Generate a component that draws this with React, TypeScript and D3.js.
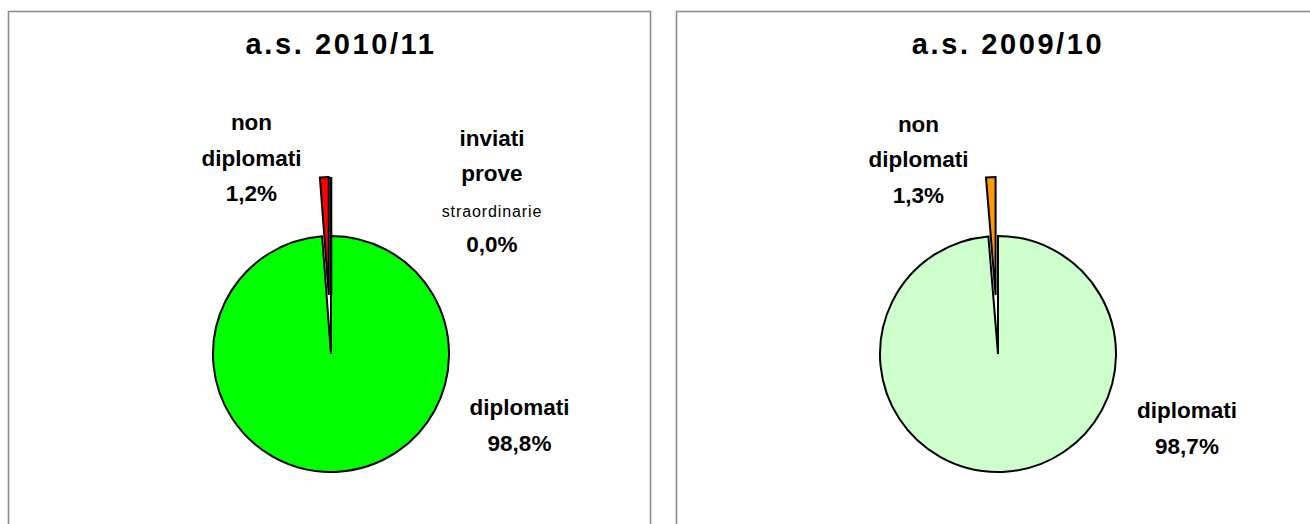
import React from 'react';
import * as d3 from 'd3';

// Esiti esami di stato, percentuali
const categories2010 = ['diplomati', 'non diplomati', 'inviati prove straordinarie'];
const values2010 = [98.8, 1.2, 0.0];
const colors2010 = ['#00FF00', '#FF0000', '#FFFF00'];

const categories2009 = ['diplomati', 'non diplomati'];
const values2009 = [98.7, 1.3];
const colors2009 = ['#CCFFCC', '#FF9900'];

const titles = ['a.s. 2010/11', 'a.s. 2009/10'];

const W = 1310;
const H = 524;
const FONT = "'Liberation Sans', Arial, sans-serif";

const fmt = (v: number) => v.toFixed(1).replace('.', ',') + '%';

interface LabelPos {
  x: number;
  y: number; // baseline of first line
}

interface PieProps {
  title: string;
  titleX: number;
  cx: number;
  cy: number;
  categories: string[];
  values: number[];
  colors: string[];
  labels: Record<string, LabelPos>;
}

const R = 118;
const EXPLODE = 59;
const LINE = 35.5;

// word lines for every label (small words get the little font)
const labelLines: Record<string, string[]> = {
  'diplomati': ['diplomati'],
  'non diplomati': ['non', 'diplomati'],
  'inviati prove straordinarie': ['inviati', 'prove', 'straordinarie'],
};
const smallWords = new Set(['straordinarie']);

const PieChart: React.FC<PieProps> = ({ title, titleX, cx, cy, categories, values, colors, labels }) => {
  const data = categories.map((c, i) => ({ c, v: values[i], color: colors[i] }));
  const pie = d3.pie<{ c: string; v: number; color: string }>()
    .sort(null)
    .value(d => d.v)
    .startAngle(0)
    .endAngle(2 * Math.PI);
  const arcs = pie(data);
  const arc = d3.arc<d3.PieArcDatum<{ c: string; v: number; color: string }>>()
    .innerRadius(0)
    .outerRadius(R);

  return (
    <g>
      <text
        x={titleX}
        y={54}
        textAnchor="middle"
        style={{ fontFamily: FONT, fontWeight: 700, fontSize: 29, letterSpacing: 2.6 }}
        fill="#000"
      >
        {title}
      </text>
      <g transform={`translate(${cx},${cy})`}>
        {arcs.map((a, i) => {
          const mid = (a.startAngle + a.endAngle) / 2;
          const off = i === 0 ? 0 : EXPLODE;
          const dx = off * Math.sin(mid);
          const dy = -off * Math.cos(mid);
          return (
            <path
              key={a.data.c}
              d={arc(a) || ''}
              transform={`translate(${dx},${dy})`}
              fill={a.data.color}
              stroke="#000"
              strokeWidth={a.data.v === 0 ? 2.6 : 2}
              strokeLinejoin="miter"
            />
          );
        })}
      </g>
      {arcs.map(a => {
        const pos = labels[a.data.c];
        if (!pos) return null;
        const lines = [...labelLines[a.data.c], fmt(a.data.v)];
        return (
          <g key={'l' + a.data.c}>
            {lines.map((ln, j) => (
              <text
                key={j}
                x={pos.x}
                y={pos.y + j * LINE}
                textAnchor="middle"
                style={{
                  fontFamily: FONT,
                  fontWeight: smallWords.has(ln) ? 400 : 700,
                  fontSize: smallWords.has(ln) ? 16 : 22.5,
                  letterSpacing: smallWords.has(ln) ? 0.9 : 0,
                }}
                fill="#000"
              >
                {ln}
              </text>
            ))}
          </g>
        );
      })}
    </g>
  );
};

const App: React.FC = () => {
  return (
    <svg
      width={W}
      height={H}
      style={{ position: 'absolute', left: 0, top: 0, background: '#fff' }}
    >
      <rect x={8.5} y={11.5} width={642} height={530} fill="#fff" stroke="#8c8c8c" strokeWidth={1.6} />
      <rect x={676.5} y={11.5} width={700} height={530} fill="#fff" stroke="#8c8c8c" strokeWidth={1.6} />
      <PieChart
        title={titles[0]}
        titleX={341}
        cx={331}
        cy={354}
        categories={categories2010}
        values={values2010}
        colors={colors2010}
        labels={{
          'non diplomati': { x: 251.5, y: 130 },
          'inviati prove straordinarie': { x: 492, y: 145.5 },
          'diplomati': { x: 519.5, y: 415 },
        }}
      />
      <PieChart
        title={titles[1]}
        titleX={1008}
        cx={998}
        cy={354}
        categories={categories2009}
        values={values2009}
        colors={colors2009}
        labels={{
          'non diplomati': { x: 918.5, y: 131.5 },
          'diplomati': { x: 1187, y: 418 },
        }}
      />
    </svg>
  );
};

export default App;
